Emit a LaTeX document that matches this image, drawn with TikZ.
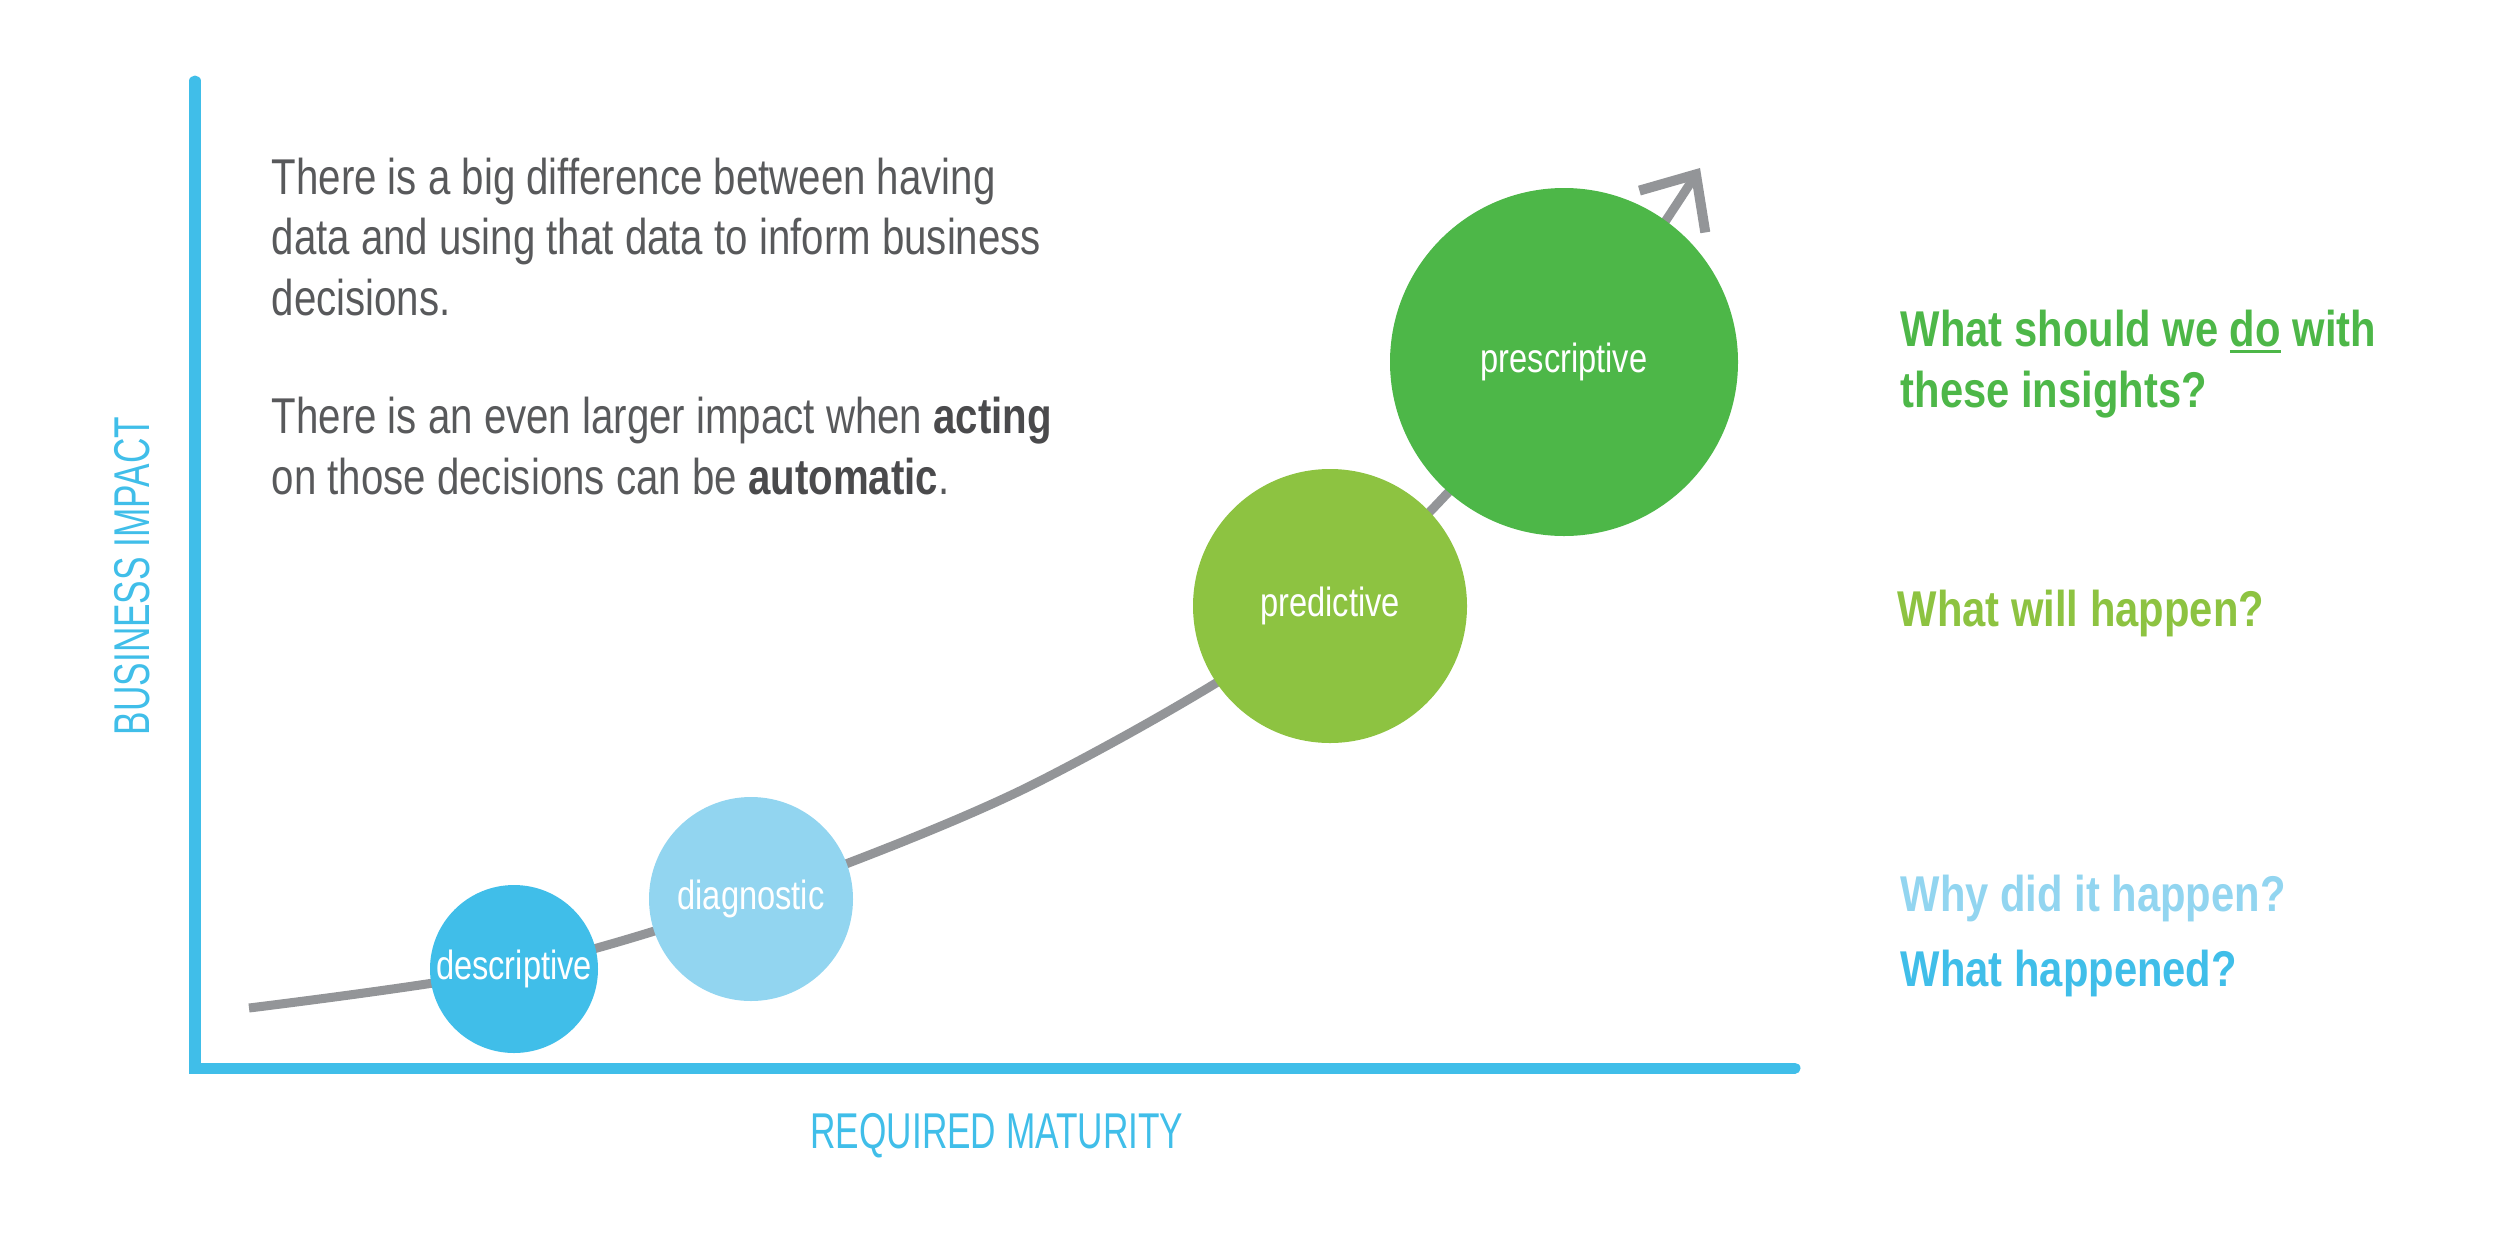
\documentclass[tikz,border=0pt]{standalone}
\usepackage{fontspec}
\setmainfont{Liberation Sans}[FakeStretch=0.80]
\newfontfamily\capsfont{Liberation Sans}[FakeStretch=0.70]
\newfontfamily\stagefont{Liberation Sans}[FakeStretch=0.80]
\newfontfamily\askfont{Liberation Sans}[FakeStretch=0.83]
\usepackage{tikz}
\usetikzlibrary{calc,math,arrows.meta,backgrounds}
\definecolor{axisblue}{HTML}{40BEE9}
\definecolor{diagblue}{HTML}{92D5F0}
\definecolor{predgreen}{HTML}{8DC341}
\definecolor{presgreen}{HTML}{4DB748}
\definecolor{curvegray}{HTML}{939598}
\definecolor{textgray}{HTML}{58595B}
\definecolor{boldgray}{HTML}{4A4A4C}
\newcommand\askunder[1]{\leavevmode\setbox0\hbox{#1}\rlap{\rule[-0.065cm]{\wd0}{0.03cm}}\box0\relax}

\begin{document}
\begin{tikzpicture}
[x=0.01cm,y=-0.01cm,
axis/.style={draw=axisblue,line width=0.11cm,line cap=round},
curve/.style={draw=curvegray,line width=0.09cm,-{Straight Barb[length=0.44cm,width=0.78cm,line width=0.1cm]}},
stage/.style={circle,inner sep=0pt,text=white,font=\stagefont\fontsize{11.6pt}{14pt}\selectfont},
statement/.style={anchor=base west,align=left,inner sep=0pt,text=textgray,font=\fontsize{14.3pt}{17.07pt}\selectfont},
ask/.style={anchor=base west,align=left,inner sep=0pt,font=\askfont\bfseries\fontsize{14.3pt}{17.07pt}\selectfont},
axislabel/.style={text=axisblue,inner sep=0pt,font=\capsfont\fontsize{14.3pt}{17pt}\selectfont},
]
\useasboundingbox (0,0) rectangle (2500,1251);

%Circle radii (in px of the page)
\tikzmath{\rdesc = 84; \rdiag = 102; \rpred = 137; \rpres = 174; }

%Axes
\coordinate (top) at (195,81);
\coordinate (origin) at (195,1068);
\coordinate (right) at (1795,1068);
\draw[axis] (top) -- (origin) -- (right);
\node[axislabel,rotate=90] (impactlabel) at (132,576) {BUSINESS IMPACT};
\node[axislabel,anchor=base] (maturitylabel) at (997,1148) {REQUIRED MATURITY};

%Stages
\node (descriptive) at (514,969)[stage,fill=axisblue,minimum size=2*\rdesc*0.01cm] {descriptive};
\node (diagnostic) at (751,899)[stage,fill=diagblue,minimum size=2*\rdiag*0.01cm] {diagnostic};
\node (predictive) at (1330,606)[stage,fill=predgreen,minimum size=2*\rpred*0.01cm] {predictive};
\node (prescriptive) at (1564,362)[stage,fill=presgreen,minimum size=2*\rpres*0.01cm] {prescriptive};

%Growth curve behind the circles
\coordinate (start) at (249,1008);
\coordinate (bend) at (1036,783);
\coordinate (tip) at (1700,168);
\begin{scope}[on background layer]
\draw[curve] plot[smooth] coordinates {(start) (descriptive.center) (diagnostic.center) (bend) (predictive.center) (prescriptive.center) (tip)};
\end{scope}

%Statement (anchored at the last line)
\node (intro) at (271,315)[statement]
{There is a big difference between having\\data and using that data to inform business\\decisions.};
\node (impact) at (271,494)[statement]
{There is an even larger impact when \textcolor{boldgray}{\textbf{acting}}\\on those decisions can be \textcolor{boldgray}{\textbf{automatic}}.};

%Questions
\node (askdo) at (1900,407)[ask,text=presgreen] {What should we \askunder{do} with\\these insights?};
\node (askwill) at (1897,626)[ask,text=predgreen] {What will happen?};
\node (askwhy) at (1900,911)[ask,text=diagblue] {Why did it happen?};
\node (askwhat) at (1900,986)[ask,text=axisblue] {What happened?};

\end{tikzpicture}
\end{document}
